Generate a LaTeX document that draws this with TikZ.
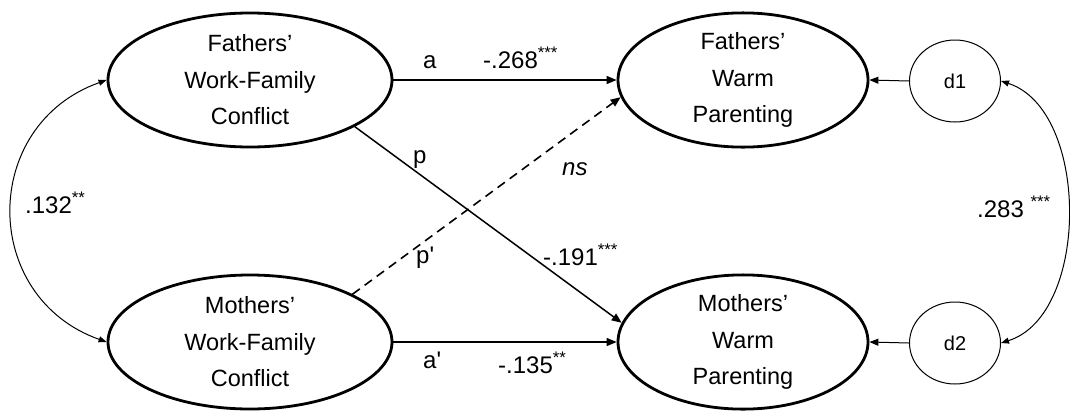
\documentclass[tikz,border=0pt]{standalone}
\usepackage{fontspec}
\setmainfont{Liberation Sans}
\newfontfamily\plainfont{Liberation Sans}
\usetikzlibrary{shapes.geometric,arrows.meta}
\begin{document}
\begin{tikzpicture}[x=1pt,y=-1pt,
 latent/.style={ellipse,draw,line width=2.8pt,minimum width=284pt,minimum height=134pt,inner sep=0pt,align=center,font=\fontsize{23.5}{36.5}\selectfont},
 dist/.style={ellipse,draw,line width=1pt,minimum width=91pt,minimum height=82pt,inner sep=0pt,font=\fontsize{20}{22}\selectfont},
 arr/.style={line width=1.5pt,-{Triangle[length=10pt,width=8pt]}},
 thinarr/.style={line width=1pt,-{Triangle[length=9pt,width=7pt]}},
 cov/.style={line width=1pt,{Triangle[length=8pt,width=6pt]}-{Triangle[length=8pt,width=6pt]}},
 lab/.style={font=\fontsize{24}{28}\selectfont,inner sep=0pt,anchor=base west},
]
\useasboundingbox (0,0) rectangle (1070,410);
\node[latent] (FWFC) at (250,80) {Fathers’\\Work-Family\\Conflict};
\node[latent] (MWFC) at (250,342) {Mothers’\\Work-Family\\Conflict};
\node[latent,minimum width=250pt] (FWP) at (743,80) {Fathers’\\Warm\\Parenting};
\node[latent,minimum width=250pt] (MWP) at (743,342) {Mothers’\\Warm\\Parenting};
\node[dist] (d1) at (955,81) {d1};
\node[dist] (d2) at (955,343) {d2};

\draw[arr] (FWFC.east) -- (FWP.west);
\draw[arr] (FWFC.-24) -- (MWP.171);
\draw[arr,line width=1.6pt,dash pattern=on 9pt off 6pt] (MWFC.25) -- (FWP.188);
\draw[arr] (MWFC.east) -- (MWP.west);
\draw[thinarr] (d1.west) -- (FWP.east);
\draw[thinarr] (d2.west) -- (MWP.east);
\draw[cov] (FWFC.west) .. controls (-20,125) and (-20,297) .. (MWFC.west);
\draw[cov] (d1.east) .. controls (1090,110) and (1090,315) .. (d2.east);

\node[lab] (la) at (423,68) {a};
\node[lab] (l268) at (483,68) {-.268\textsuperscript{***}};
\node[lab] (lp) at (413,163) {p};
\node[lab] (lns) at (562,175) {\itshape ns};
\node[lab] (lpp) at (416,263) {\plainfont p'};
\node[lab] (l191) at (543,265) {-.191\textsuperscript{***}};
\node[lab] (lap) at (423,368) {\plainfont a'};
\node[lab] (l135) at (498,373) {-.135\textsuperscript{**}};
\node[lab] (l132) at (25,213) {.132\textsuperscript{**}};
\node[lab] (l283) at (977,217) {.283 \textsuperscript{***}};
\end{tikzpicture}
\end{document}
